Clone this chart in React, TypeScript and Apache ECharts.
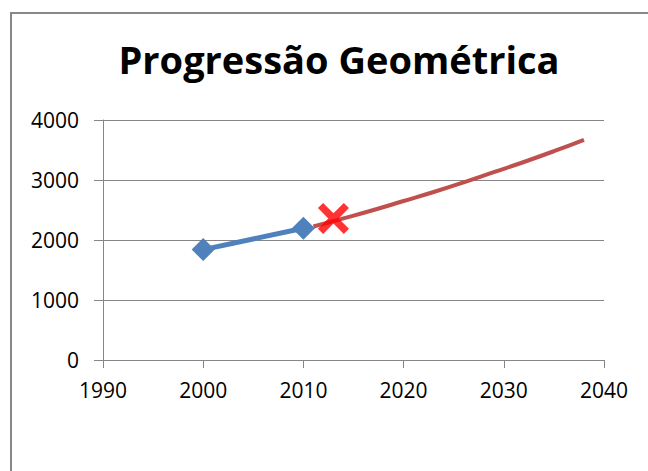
import React, { useEffect, useRef } from "react";
import * as echarts from "echarts";

const titleText = "Progressão Geométrica";
const observedYears = [2000, 2010];
const observedValues = [1840, 2195];
const projYears = [2011, 2014, 2017, 2020, 2023, 2026, 2029, 2032, 2035, 2038];
const projValues = [2225, 2360, 2500, 2650, 2800, 2960, 3130, 3300, 3480, 3670];
const markYear = [2013];
const markValue = [2360];

const xMin = 1990, xMax = 2040, xStep = 10;
const yMin = 0, yMax = 4000, yStep = 1000;

const crossPath =
  "path://M5,0 L15,10 L25,0 L30,5 L20,15 L30,25 L25,30 L15,20 L5,30 L0,25 L10,15 L0,5 Z";

export default function App() {
  const ref = useRef<HTMLDivElement>(null);
  useEffect(() => {
    if (!ref.current) return;
    const chart = echarts.init(ref.current, null, { renderer: "svg" });
    const font = "'Open Sans', sans-serif";
    const gray = "#868686";
    chart.setOption({
      animation: false,
      backgroundColor: "#ffffff",
      title: {
        text: titleText,
        left: 334,
        textAlign: "center",
        top: 35,
        textStyle: { fontFamily: font, fontWeight: "bold", fontSize: 38, color: "#000" },
      },
      graphic: [
        {
          type: "rect",
          shape: { x: 11, y: 13, width: 700, height: 520 },
          style: { fill: "none", stroke: "#878787", lineWidth: 2 },
          silent: true,
        },
      ],
      grid: { left: 103, right: 44, top: 120, bottom: 111, containLabel: false },
      xAxis: {
        type: "value",
        min: xMin,
        max: xMax,
        interval: xStep,
        axisLine: { show: true, lineStyle: { color: gray, width: 1 } },
        axisTick: { show: true, inside: false, length: 8, lineStyle: { color: gray } },
        splitLine: { show: false },
        axisLabel: {
          fontFamily: font, fontSize: 21, color: "#000", margin: 19,
          formatter: (v: number) => String(v),
        },
      },
      yAxis: {
        type: "value",
        min: yMin,
        max: yMax,
        interval: yStep,
        axisLine: { show: true, lineStyle: { color: gray, width: 1 } },
        axisTick: { show: true, inside: false, length: 9, lineStyle: { color: gray } },
        splitLine: { show: true, lineStyle: { color: gray, width: 1 } },
        axisLabel: {
          fontFamily: font, fontSize: 21, color: "#000", margin: 24,
          formatter: (v: number) => String(v),
        },
      },
      series: [
        {
          type: "line",
          data: projYears.map((y, i) => [y, projValues[i]]),
          smooth: true,
          showSymbol: false,
          symbol: "none",
          lineStyle: { color: "#C0504D", width: 4 },
          z: 2,
        },
        {
          type: "line",
          data: observedYears.map((y, i) => [y, observedValues[i]]),
          symbol: "diamond",
          symbolSize: 23,
          itemStyle: { color: "#4F81BD" },
          lineStyle: { color: "#4F81BD", width: 5 },
          z: 3,
        },
        {
          type: "scatter",
          data: markYear.map((y, i) => [y, markValue[i]]),
          symbol: crossPath,
          symbolSize: 31,
          itemStyle: { color: "#FF0000" },
          z: 4,
        },
      ],
    });
    return () => chart.dispose();
  }, []);
  return (
    <div
      ref={ref}
      style={{ position: "fixed", left: 0, top: 0, width: 648, height: 471 }}
    />
  );
}
